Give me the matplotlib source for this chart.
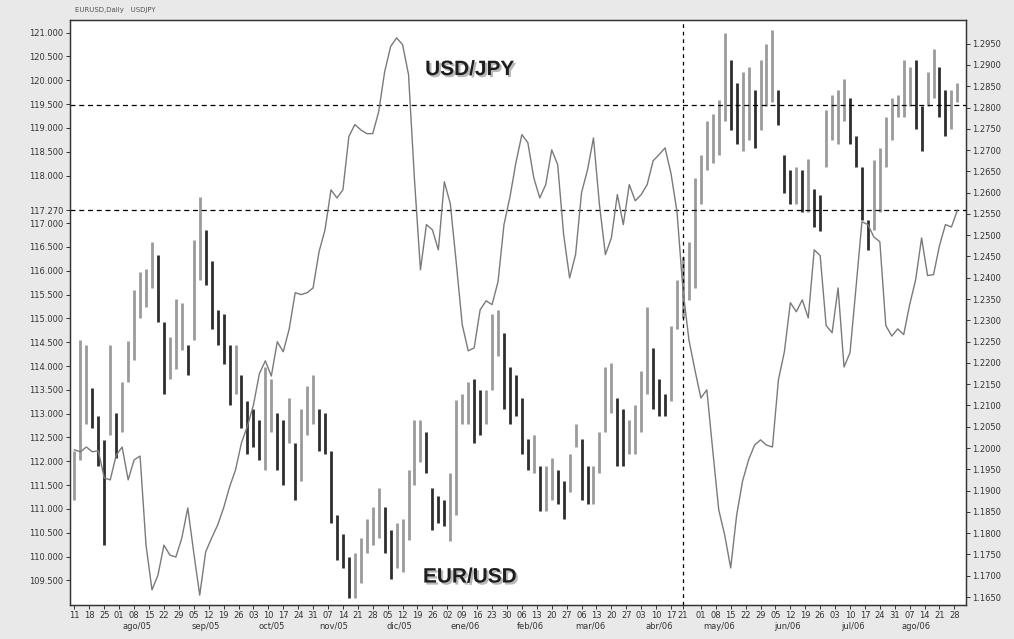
"""EUR/USD daily bars against the USD/JPY close, Jul 2005 - Aug 2006."""

import matplotlib

matplotlib.use("Agg")

import matplotlib.patheffects as pe
import matplotlib.pyplot as plt
import matplotlib.transforms as mtransforms
import numpy as np
import pandas as pd

# trading sessions on the chart; the series below hold one value every SAMPLE_STEP sessions
SESSIONS = pd.bdate_range("2005-07-11", "2006-08-31")
SAMPLE_STEP = 2

usdjpy_close = [
    112.24, 112.20, 112.30, 112.20, 112.22, 111.65, 111.61, 112.13, 112.30, 111.61,
    112.03, 112.11, 110.24, 109.30, 109.61, 110.24, 110.03, 109.99, 110.39, 111.02,
    110.08, 109.19, 110.10, 110.39, 110.66, 111.02, 111.46, 111.82, 112.39, 112.74,
    113.18, 113.84, 114.11, 113.79, 114.51, 114.30, 114.78, 115.54, 115.50, 115.54,
    115.64, 116.40, 116.86, 117.70, 117.53, 117.70, 118.82, 119.07, 118.96, 118.88,
    118.88, 119.34, 120.18, 120.71, 120.89, 120.75, 120.12, 117.91, 116.02, 116.97,
    116.86, 116.44, 117.87, 117.41, 116.17, 114.87, 114.32, 114.38, 115.18, 115.37,
    115.29, 115.77, 116.97, 117.55, 118.27, 118.86, 118.69, 117.95, 117.53, 117.81,
    118.54, 118.23, 116.76, 115.85, 116.34, 117.64, 118.12, 118.79, 117.39, 116.34,
    116.69, 117.60, 116.97, 117.81, 117.47, 117.60, 117.81, 118.31, 118.44, 118.58,
    118.04, 117.24, 115.60, 114.55, 113.92, 113.33, 113.50, 112.22, 110.98, 110.45,
    109.76, 110.87, 111.59, 112.03, 112.34, 112.45, 112.34, 112.30, 113.71, 114.30,
    115.33, 115.14, 115.39, 115.01, 116.44, 116.32, 114.85, 114.70, 115.64, 113.98,
    114.28, 115.64, 117.03, 116.97, 116.71, 116.61, 114.85, 114.63, 114.78, 114.66,
    115.29, 115.81, 116.69, 115.90, 115.92, 116.53, 116.97, 116.92, 117.27,
]

eurusd_high = [
    1.1993, 1.2254, 1.2242, 1.2141, 1.2075, 1.2019, 1.2242, 1.2083, 1.2155, 1.2252,
    1.2372, 1.2414, 1.2421, 1.2485, 1.2454, 1.2296, 1.2261, 1.2350, 1.2341, 1.2242,
    1.2489, 1.2590, 1.2513, 1.2440, 1.2325, 1.2315, 1.2242, 1.2242, 1.2172, 1.2111,
    1.2092, 1.2066, 1.2191, 1.2162, 1.2083, 1.2066, 1.2118, 1.2012, 1.2092, 1.2146,
    1.2172, 1.2092, 1.2083, 1.1993, 1.1843, 1.1798, 1.1744, 1.1753, 1.1789, 1.1833,
    1.1861, 1.1906, 1.1861, 1.1807, 1.1824, 1.1833, 1.1948, 1.2066, 1.2066, 1.2038,
    1.1906, 1.1887, 1.1878, 1.1941, 1.2113, 1.2127, 1.2155, 1.2162, 1.2137, 1.2137,
    1.2315, 1.2325, 1.2271, 1.2191, 1.2172, 1.2118, 1.2021, 1.2031, 1.1958, 1.1958,
    1.1977, 1.1948, 1.1923, 1.1986, 1.2057, 1.2021, 1.1958, 1.1958, 1.2038, 1.2191,
    1.2200, 1.2118, 1.2092, 1.2066, 1.2101, 1.2181, 1.2332, 1.2235, 1.2162, 1.2127,
    1.2287, 1.2395, 1.2449, 1.2485, 1.2635, 1.2689, 1.2769, 1.2785, 1.2818, 1.2974,
    1.2912, 1.2858, 1.2884, 1.2894, 1.2840, 1.2912, 1.2948, 1.2983, 1.2840, 1.2689,
    1.2654, 1.2661, 1.2654, 1.2680, 1.2609, 1.2595, 1.2795, 1.2830, 1.2840, 1.2868,
    1.2823, 1.2734, 1.2661, 1.2536, 1.2677, 1.2705, 1.2778, 1.2823, 1.2830, 1.2912,
    1.2894, 1.2912, 1.2804, 1.2884, 1.2938, 1.2894, 1.2840, 1.2840, 1.2858,
]

eurusd_low = [
    1.1878, 1.1972, 1.2057, 1.2047, 1.1958, 1.1772, 1.2031, 1.1977, 1.2038, 1.2155,
    1.2207, 1.2306, 1.2332, 1.2376, 1.2296, 1.2127, 1.2162, 1.2186, 1.2231, 1.2172,
    1.2254, 1.2395, 1.2383, 1.2280, 1.2242, 1.2198, 1.2101, 1.2127, 1.2047, 1.1986,
    1.2003, 1.1972, 1.1948, 1.2038, 1.1948, 1.1913, 1.2012, 1.1878, 1.1923, 1.2031,
    1.2057, 1.1993, 1.1986, 1.1824, 1.1737, 1.1718, 1.1648, 1.1648, 1.1683, 1.1753,
    1.1772, 1.1789, 1.1753, 1.1692, 1.1718, 1.1709, 1.1784, 1.1913, 1.1967, 1.1941,
    1.1807, 1.1824, 1.1817, 1.1782, 1.1843, 1.2057, 1.2057, 1.2012, 1.2031, 1.2057,
    1.2137, 1.2217, 1.2092, 1.2057, 1.2075, 1.1986, 1.1948, 1.1941, 1.1852, 1.1852,
    1.1878, 1.1869, 1.1833, 1.1897, 1.2003, 1.1878, 1.1869, 1.1869, 1.1941, 1.2038,
    1.2083, 1.1958, 1.1958, 1.1986, 1.1986, 1.2038, 1.2127, 1.2092, 1.2075, 1.2075,
    1.2111, 1.2280, 1.2306, 1.2348, 1.2376, 1.2574, 1.2654, 1.2670, 1.2689, 1.2769,
    1.2748, 1.2715, 1.2698, 1.2724, 1.2705, 1.2748, 1.2804, 1.2814, 1.2760, 1.2600,
    1.2574, 1.2574, 1.2555, 1.2555, 1.2520, 1.2510, 1.2661, 1.2724, 1.2715, 1.2769,
    1.2715, 1.2661, 1.2536, 1.2466, 1.2513, 1.2555, 1.2661, 1.2724, 1.2778, 1.2778,
    1.2804, 1.2750, 1.2698, 1.2804, 1.2823, 1.2778, 1.2734, 1.2750, 1.2814,
]

USDJPY_LAST = 117.27
EURUSD_LAST = 1.2807
EVENT_DATE = pd.Timestamp("2006-04-21")
USDJPY_TICKS = [v / 2 for v in range(219, 243) if v != 235]  # 109.5 .. 121.0, no 117.5
EURUSD_TICKS = [v / 1000 for v in range(1165, 1300, 5)]
MONTH_LABELS = ["ago/05", "sep/05", "oct/05", "nov/05", "dic/05", "ene/06", "feb/06",
                "mar/06", "abr/06", "may/06", "jun/06", "jul/06", "ago/06"]

BG = "#e9e9e9"
UP_COLOR = "#9b9b9b"
DOWN_COLOR = "#2e2e2e"

fig = plt.figure(figsize=(10.14, 6.39), dpi=100, facecolor=BG)
ax = fig.add_axes([0.069, 0.053, 0.884, 0.916])
ax.set_facecolor("white")
ax2 = ax.twinx()

x = np.arange(len(usdjpy_close)) * SAMPLE_STEP
high = np.array(eurusd_high)
low = np.array(eurusd_low)
mid = (high + low) / 2
rising = np.diff(mid, prepend=mid[0]) >= 0
bar_colors = np.where(rising, UP_COLOR, DOWN_COLOR)

ax2.vlines(x, low, high, colors=bar_colors, linewidth=2.0)
ax.plot(x, usdjpy_close, color="#7a7a7a", linewidth=1.0, zorder=3)
ax.set_zorder(ax2.get_zorder() + 1)
ax.patch.set_visible(False)
ax2.patch.set_visible(True)
ax2.patch.set_facecolor("white")

# reference lines: last values and the 21 Apr 2006 session
dash = (0, (4, 3))
ax.axhline(USDJPY_LAST, color="black", linewidth=0.9, linestyle=dash)
ax2.axhline(EURUSD_LAST, color="black", linewidth=0.9, linestyle=dash)
event_idx = SESSIONS.get_loc(EVENT_DATE)
ax.axvline(event_idx, color="black", linewidth=0.9, linestyle=(0, (3, 3)))

ax.set_xlim(-1.5, len(SESSIONS))
ax.set_ylim(108.98, 121.27)
ax2.set_ylim(1.1631, 1.3006)

left_ticks = USDJPY_TICKS + [USDJPY_LAST]
ax.set_yticks(left_ticks)
ax.set_yticklabels([f"{v:.3f}" for v in left_ticks])
ax2.set_yticks(EURUSD_TICKS)
ax2.set_yticklabels([f"{v:.4f}" for v in EURUSD_TICKS])

# weekly ticks on Mondays plus the event session
mondays = [i for i, d in enumerate(SESSIONS) if d.dayofweek == 0 and abs(i - event_idx) > 2]
xticks = sorted(mondays + [event_idx])
ax.set_xticks(xticks)
ax.set_xticklabels([f"{SESSIONS[i].day:02d}" for i in xticks])

month_starts = [i for i in range(1, len(SESSIONS)) if SESSIONS[i].month != SESSIONS[i - 1].month]
trans = mtransforms.blended_transform_factory(ax.transData, ax.transAxes)
for idx, label in zip(month_starts, MONTH_LABELS):
    ax.text(idx + 6, -0.036, label, transform=trans, ha="center", va="center",
            fontsize=6, color="#333333")

for axis in (ax, ax2):
    axis.tick_params(axis="both", labelsize=6, labelcolor="#333333", length=3, width=0.7,
                     pad=1.5, color="#333333")
    for spine in axis.spines.values():
        spine.set_linewidth(0.9)
        spine.set_color("#333333")

shadow = [pe.SimplePatchShadow(offset=(1.5, -1.5), shadow_rgbFace="#9a9a9a", alpha=0.7), pe.Normal()]
ax.text(0.446, 0.915, "USD/JPY", transform=ax.transAxes, ha="center", va="center",
        fontsize=15, fontweight="bold", family="Liberation Sans", color="#1e1e1e",
        path_effects=shadow)
ax.text(0.446, 0.048, "EUR/USD", transform=ax.transAxes, ha="center", va="center",
        fontsize=15, fontweight="bold", family="Liberation Sans", color="#1e1e1e",
        path_effects=shadow)

fig.text(0.074, 0.985, "EURUSD,Daily   USDJPY", fontsize=5, color="#555555", va="center")

fig.savefig("out.png", dpi=100, facecolor=fig.get_facecolor())
